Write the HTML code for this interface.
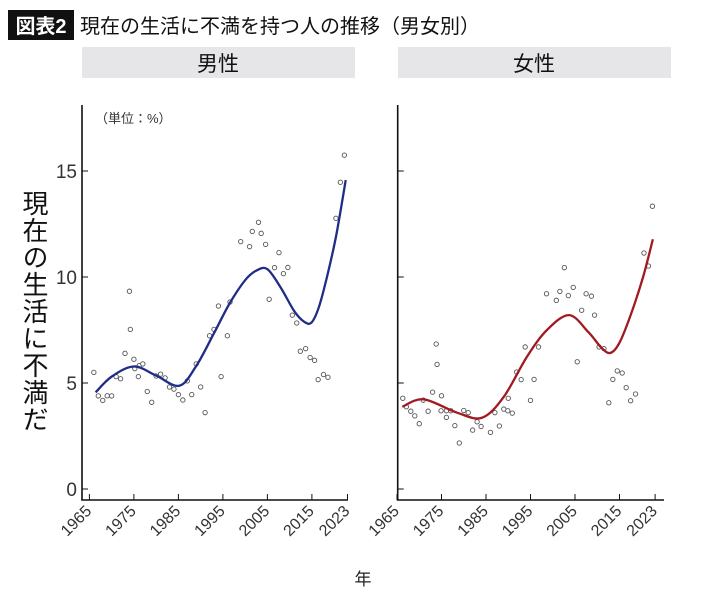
<!DOCTYPE html>
<html><head><meta charset="utf-8"><style>
body{margin:0;background:#fff;}
svg{display:block;font-family:"Liberation Sans","Noto Sans CJK JP",sans-serif;}
</style></head><body>
<svg id="c" width="710" height="594" viewBox="0 0 710 594">
<rect x="8" y="10" width="66" height="30" fill="#111"/>
<text x="41" y="33" font-size="20" font-weight="bold" fill="#fff" text-anchor="middle">図表2</text>
<text x="80" y="33" font-size="20" fill="#111">現在の生活に不満を持つ人の推移（男女別）</text>
<rect x="82" y="47" width="273" height="31" fill="#e6e6e8"/>
<text x="218" y="71" font-size="21" text-anchor="middle" fill="#111">男性</text>
<rect x="398" y="47" width="273" height="31" fill="#e6e6e8"/>
<text x="534" y="71" font-size="21" text-anchor="middle" fill="#111">女性</text>
<text x="95" y="123" font-size="13" fill="#333">（単位：%）</text>
<text x="34" y="190" font-size="26" fill="#111" style="writing-mode:vertical-rl;letter-spacing:1px">現在の生活に不満だ</text>
<text x="363" y="585" font-size="17" fill="#222" text-anchor="middle">年</text>
<g id="plots"></g>
</svg>
<script>
const yTicks=[0,5,10,15];
const xTickLabels=[1965,1975,1985,1995,2005,2015,2023];
const maleYears=[1966,1967,1968,1969,1970,1971,1972,1973,1974,1974.2,1975,1975.2,1976,1976.2,1977,1978,1979,1980,1981,1982,1983,1984,1985,1986,1987,1988,1989,1990,1991,1992,1993,1994,1994.6,1996,1996.6,1999,2001,2001.6,2003,2003.6,2004.6,2005.4,2006.6,2007.6,2008.6,2009.6,2010.6,2011.6,2012.4,2013.6,2014.6,2015.6,2016.4,2017.6,2018.6,2020.4,2021.4,2022.3];
const maleValues=[5.5,4.39,4.18,4.4,4.39,5.3,5.2,6.4,9.33,7.53,6.12,5.68,5.3,5.82,5.9,4.6,4.09,5.33,5.42,5.24,4.81,4.71,4.45,4.2,5.1,4.45,5.9,4.81,3.6,7.23,7.53,8.63,5.3,7.23,8.82,11.67,11.43,12.15,12.58,12.06,11.54,8.95,10.44,11.15,10.16,10.45,8.2,7.83,6.5,6.62,6.2,6.07,5.16,5.4,5.27,12.77,14.47,15.75];
const maleCurveYears=[1966.4,1970,1975,1980,1985.2,1989,1993,1996.5,2000,2002.5,2005,2008,2011,2013.2,2014.9,2016.6,2018.5,2020.5,2022.6];
const maleCurveValues=[4.56,5.3,5.78,5.35,4.87,5.8,7.35,8.75,9.85,10.3,10.37,9.5,8.4,7.9,7.85,8.6,10.1,12.0,14.57];
const femaleYears=[1966.3,1967.1,1968.1,1969,1970,1970.9,1972,1973,1973.8,1974,1975,1974.9,1976.1,1976.1,1977.1,1978,1979,1980,1981,1982,1983,1983.9,1986,1987,1988,1989,1990,1989.9,1990.9,1991.9,1992.9,1993.8,1995,1995.8,1996.8,1998.6,2000.8,2001.6,2002.6,2003.5,2004.6,2005.5,2006.5,2007.5,2008.7,2009.4,2010.4,2011.5,2012.6,2013.5,2014.5,2015.6,2016.5,2017.5,2018.6,2020.5,2021.5,2022.4];
const femaleValues=[4.28,3.88,3.67,3.45,3.08,4.19,3.67,4.57,6.84,5.88,4.4,3.69,3.69,3.38,3.69,2.99,2.17,3.7,3.6,2.78,3.17,2.95,2.67,3.6,2.97,3.77,4.28,3.69,3.58,5.52,5.16,6.7,4.18,5.17,6.7,9.21,8.9,9.32,10.44,9.12,9.51,6.0,8.43,9.21,9.1,8.2,6.7,6.62,4.07,5.17,5.57,5.47,4.78,4.16,4.48,11.13,10.52,13.34];
const femaleCurveYears=[1966.2,1971,1978.5,1984.1,1989,1994.2,1998.7,2003.7,2008,2011,2013,2015,2017.5,2020.3,2022.5];
const femaleCurveValues=[3.88,4.23,3.6,3.36,4.35,6.24,7.5,8.2,7.4,6.65,6.42,6.9,8.2,10.0,11.78];

const NS='http://www.w3.org/2000/svg';
const root=document.getElementById('plots');
function mk(tag,attrs,parent){const e=document.createElementNS(NS,tag);for(const k in attrs)e.setAttribute(k,attrs[k]);(parent||root).appendChild(e);return e;}
const Y0=489,PX_PER_UNIT=21.2,PX_PER_YEAR=4.45;
function yScale(v){return Y0-v*PX_PER_UNIT;}
function spline(pts){let d='M'+pts[0][0]+','+pts[0][1];for(let i=0;i<pts.length-1;i++){const p0=pts[Math.max(0,i-1)],p1=pts[i],p2=pts[i+1],p3=pts[Math.min(pts.length-1,i+2)];const c1x=p1[0]+(p2[0]-p0[0])/6,c1y=p1[1]+(p2[1]-p0[1])/6,c2x=p2[0]-(p3[0]-p1[0])/6,c2y=p2[1]-(p3[1]-p1[1])/6;d+=` C${c1x},${c1y} ${c2x},${c2y} ${p2[0]},${p2[1]}`;}return d;}
function panel(name,axisX,x0,xEnd,yrs,vals,cy,cv,color,showY){
  const g=mk('g',{});
  
  
  const xs=y=>x0+(y-1965)*PX_PER_YEAR;
  const ya=mk('line',{x1:axisX,y1:105,x2:axisX,y2:500,stroke:'#111','stroke-width':1.6},g);
  
  
  const xa=mk('line',{x1:axisX-0.8,y1:500,x2:xEnd,y2:500,stroke:'#111','stroke-width':1.6},g);
  
  
  yTicks.forEach(t=>{
    const tk=mk('line',{x1:axisX,y1:yScale(t),x2:axisX+6,y2:yScale(t),stroke:'#111','stroke-width':1},g);
    
    
    if(showY){const tl=mk('text',{x:axisX-5,y:yScale(t)+7,'font-size':19,'text-anchor':'end',fill:'#333'},g);tl.textContent=t;
      
      }
  });
  xTickLabels.forEach(t=>{
    const x=xs(t);
    const tk=mk('line',{x1:x,y1:500,x2:x,y2:494,stroke:'#111','stroke-width':1},g);
    
    
    const tl=mk('text',{x:x+3,y:512,'font-size':16,'text-anchor':'end',fill:'#333',transform:`rotate(-45 ${x+3} 512)`},g);tl.textContent=t;
    
    
  });
  yrs.forEach((y,i)=>{
    const c=mk('circle',{cx:xs(y),cy:yScale(vals[i]),r:2.2,fill:'#fff',stroke:'#555','stroke-width':0.9},g);
    
    
  });
  const pts=cy.map((y,i)=>[xs(y),yScale(cv[i])]);
  const p=mk('path',{d:spline(pts),fill:'none',stroke:color,'stroke-width':2.3},g);
  
  
}
panel('male',82,89.4,348,maleYears,maleValues,maleCurveYears,maleCurveValues,'#1f2d86',true);
panel('female',397.7,397,664,femaleYears,femaleValues,femaleCurveYears,femaleCurveValues,'#a01a22',false);
</script>
</body></html>
